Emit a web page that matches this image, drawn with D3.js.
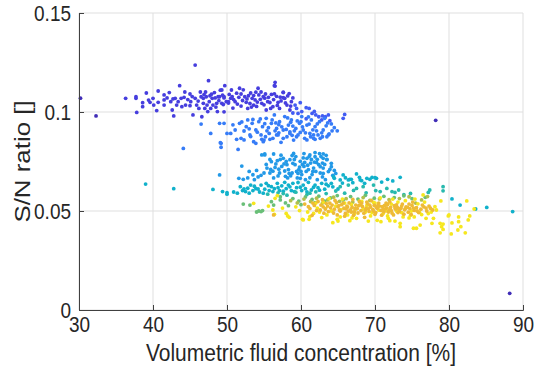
<!DOCTYPE html>
<html>
<head>
<meta charset="utf-8">
<script src="https://cdn.jsdelivr.net/npm/d3@7"></script>
<style>
  body { margin: 0; background: #fff; }
  text { font-family: "Liberation Sans", Arial, sans-serif; fill: #262626; }
</style>
</head>
<body>
<svg id="chart" width="534" height="373"></svg>
<script>
// axis ticks
const xTicks = [30, 40, 50, 60, 70, 80, 90];
const yTicks = [0, 0.05, 0.1, 0.15];
const yTickLabels = ['0', '0.05', '0.1', '0.15'];

// colour value (parula) of each group of points
const groupColour = { deep: 0.02, violet: 0.07, indigo: 0.13, blue: 0.20, sky: 0.29, teal: 0.40, seagreen: 0.47, green: 0.57, olive: 0.66, yellow: 0.92, orange: 0.75 };

// points: [fluid concentration %, S/N ratio]
const deepPts = [[30.2,.1070],[32.3,.0980],[78.2,.0958],[88.2,.0084]];

const violetPts = [
  [36.3,.1069],[37.7,.1077],[37.7,.1069],[37.8,.0998],[38.6,.1047],[38.6,.1027],[39.1,.1096],[39.6,.1049],[40.0,.1069],[40.1,.1035],
  [40.5,.1007],[40.7,.1106],[40.7,.1049],[41.5,.1086],[41.5,.1061],[41.5,.1035],[42.2,.1098],[42.4,.1052],[42.6,.1010],[42.7,.1066],
  [43.0,.1069],[42.8,.0980],[43.2,.1035],[43.6,.1133],[43.8,.1069],[43.9,.1027],[44.2,.1074],[44.3,.1101],[44.4,.1035],[45.0,.1032],
  [45.0,.1091],[45.1,.1052],[45.4,.0985],[45.7,.1237],[45.7,.1069],[45.9,.1035],[46.2,.1018],[46.4,.1101],[46.5,.1077],[46.6,.0976],
  [46.8,.1044],[46.8,.1069],[47.0,.1018],[47.1,.1101],[47.2,.1077],[47.3,.1035],[47.4,.1002],[47.5,.1158],[47.6,.1052],[47.7,.1082],
  [47.8,.1018],[48.0,.1069],[48.1,.1035],[48.3,.1098],[48.4,.1071],[48.6,.1044],[48.7,.1002],[48.8,.1077],[49.0,.1077],[49.1,.1110],
  [49.3,.1044],[49.6,.1071],[49.7,.1133],[49.9,.1052],[49.3,.1111],[49.6,.1077],[50.6,.1111],[50.7,.1077],[50.2,.1052],[49.5,.1038],
  [49.6,.1001],[51.7,.1120],[51.9,.1091],[51.1,.1052],[52.4,.1077],[52.6,.1049],[52.8,.1018],[53.2,.1096],[53.4,.1069],[53.6,.1035],
  [54.2,.1120],[54.3,.1086],[54.7,.1044],[54.9,.1077],[55.3,.1010],[55.5,.1052],[56.0,.1089],[56.2,.1027],[56.5,.1150],[56.4,.1133],
  [56.9,.1049],[57.1,.1018],[57.6,.1100],[57.8,.1069],[58.1,.1035],[58.5,.1010],[58.7,.1052],[56.5,.1131],[57.6,.1098],[57.6,.1072],
  [50.9,.1063],[51.4,.1040],[51.6,.1074],[52.1,.1058],[52.9,.1082],[53.1,.1043],[53.8,.1061],[54.0,.1028],[54.5,.1064],[55.1,.1070],
  [55.8,.1048],[56.3,.1063],[56.7,.1079],[57.3,.1056],[58.2,.1081],[58.9,.1071],[50.3,.1089],[53.9,.1100],[55.2,.1091],[48.9,.1057],
  [50.2,.1045],[50.8,.1020],[51.3,.1095],[51.9,.1030],[52.2,.1112],[52.7,.1066],[53.3,.1025],[53.6,.1083],[54.1,.1050],[54.6,.1101],
  [55.0,.1036],[55.6,.1074],[55.9,.1018],[56.4,.1092],[56.8,.1033],[57.2,.1075],[57.9,.1046],[58.4,.1093],[58.6,.1030],[46.1,.1055],
  [45.3,.1078],[44.7,.1063],[47.9,.1090],[48.5,.1025],[49.4,.1085],[50.5,.1069],[46.9,.1088],[43.4,.1052],[41.9,.1071],[39.4,.1060]
];

const indigoPts = [
  [59.2,.1035],[59.4,.1018],[59.6,.0993],[60.1,.1002],[60.7,.1022],[61.1,.1018],[61.5,.0993],[60.7,.0966],[62.0,.0985],[62.4,.0976],
  [63.3,.0976],[65.9,.0988],[65.7,.0968],[63.7,.0985],[63.9,.0956],[62.9,.0980],[62.8,.0960],[59.9,.1047],[61.8,.1003],[58.9,.0995]
];

const bluePts = [
  [44.1,.0816],[47.8,.0892],[49.2,.0842],[49.2,.0822],[49.1,.0845],[50.5,.0892],[51.3,.0862],[51.5,.0811],[52.3,.0859],[53.2,.0876],
  [53.9,.0842],[54.7,.0862],[46.5,.0939],[49.0,.0943],[49.6,.0943],[50.0,.0892],[51.1,.0909],[51.7,.0943],[51.9,.0867],[52.6,.0926],
  [52.8,.0960],[53.1,.0884],[53.4,.0943],[53.6,.0850],[53.9,.0909],[54.3,.0951],[54.6,.0884],[54.8,.0926],[55.0,.0858],[55.3,.0968],
  [55.7,.0892],[56.0,.0943],[56.2,.0867],[56.4,.0985],[56.7,.0917],[56.9,.0884],[57.1,.0951],[57.3,.0847],[57.6,.0909],[57.8,.0977],
  [58.1,.0875],[58.3,.0934],[58.5,.0900],[58.7,.0960],[59.0,.0858],[59.3,.0917],[59.6,.0884],[59.8,.0943],[60.1,.0977],[60.3,.0909],
  [60.5,.0867],[60.8,.0934],[61.2,.0892],[61.4,.0960],[61.7,.0867],[61.9,.0926],[62.3,.0884],[62.5,.0951],[63.0,.0909],[63.2,.0968],
  [63.8,.0889],[62.9,.0875],[61.9,.0862],[63.7,.0884],[54.9,.0850],[55.8,.0862],[56.7,.0884],[57.6,.0867],[58.5,.0892],[59.4,.0875],
  [60.8,.0859],[61.7,.0884],[62.6,.0867],[63.5,.0875],[64.5,.0921],[64.1,.0940],[55.6,.0921],[57.0,.0936],[58.9,.0929],[60.0,.0951],
  [61.1,.0939],[62.1,.0905],[59.9,.0897],[58.0,.0912],[56.5,.0905],[55.1,.0941],[54.1,.0898],[52.3,.0904],[64.9,.0905],[63.4,.0930],
  [50.8,.0935],[52.0,.0950],[53.0,.0915],[54.5,.0965],[55.4,.0905],[56.1,.0960],[57.4,.0925],[58.2,.0970],[58.8,.0882],[59.5,.0955],
  [60.6,.0895],[61.0,.0975],[61.6,.0910],[62.2,.0940],[62.8,.0895],[63.6,.0945],[64.2,.0905],[55.2,.0875],[57.0,.0895],[59.1,.0905],
  [60.2,.0925],[56.6,.0945],[53.5,.0962],[58.6,.0948],[61.3,.0875]
];

const skyPts = [
  [49.0,.0682],[51.6,.0665],[52.2,.0660],[52.0,.0727],[52.8,.0667],[53.5,.0683],[53.7,.0658],[54.2,.0672],[54.7,.0783],[55.1,.0783],
  [54.6,.0680],[55.0,.0692],[55.4,.0717],[55.8,.0692],[56.0,.0749],[56.3,.0667],[56.5,.0720],[56.8,.0754],[57.1,.0692],[57.4,.0725],
  [57.6,.0766],[57.9,.0675],[58.1,.0734],[58.3,.0709],[58.5,.0759],[58.8,.0692],[59.0,.0791],[59.2,.0734],[59.5,.0667],[59.7,.0709],
  [59.9,.0751],[60.1,.0684],[60.4,.0725],[60.6,.0658],[60.8,.0766],[61.0,.0709],[61.3,.0742],[61.5,.0684],[61.7,.0717],[61.9,.0774],
  [62.2,.0658],[62.4,.0734],[62.6,.0692],[63.0,.0717],[63.5,.0759],[63.3,.0658],[55.1,.0788],[56.3,.0788],[63.0,.0789],[63.4,.0781],
  [61.2,.0783],[61.9,.0795],[63.0,.0766],[63.5,.0761],[64.1,.0741],[64.1,.0724],[63.7,.0699],[63.0,.0690],[62.6,.0724],[60.0,.0700],
  [58.6,.0678],[57.0,.0711],[59.3,.0775],[60.5,.0745],[62.0,.0700],[58.0,.0750],[61.4,.0760],[59.6,.0690],[64.7,.0690],[60.9,.0731],
  [59.8,.0722],[58.9,.0741],[61.8,.0747],[62.9,.0742],[57.8,.0702],[56.2,.0701],[60.3,.0768],[62.2,.0761],
  [55.3,.0735],[55.9,.0710],[56.6,.0738],[57.2,.0760],[57.7,.0738],[58.4,.0690],[59.1,.0760],[59.4,.0700],[60.2,.0735],[60.7,.0700],
  [61.1,.0775],[61.6,.0700],[62.1,.0745],[62.7,.0775],[63.2,.0735],[63.9,.0710],[64.5,.0705],[53.0,.0700],[54.0,.0705],[56.9,.0677],
  [58.2,.0667],[59.9,.0665],[61.2,.0668],[62.9,.0672],[64.3,.0680],[57.3,.0782],[58.8,.0780],[60.4,.0790],[62.5,.0790],[55.8,.0760]
];

const tealPts = [
  [39.0,.0636],[42.8,.0613],[48.1,.0609],[49.4,.0598],[50.0,.0593],[50.0,.0585],[50.9,.0596],[51.4,.0590],[51.8,.0623],[52.1,.0603],
  [52.5,.0598],[52.8,.0615],[53.2,.0631],[53.5,.0603],[53.9,.0613],[54.4,.0596],[54.6,.0631],[55.1,.0610],[55.3,.0640],[55.7,.0603],
  [56.0,.0623],[56.4,.0613],[56.8,.0640],[57.1,.0603],[57.4,.0627],[57.8,.0645],[58.0,.0613],[58.3,.0631],[58.7,.0603],[58.9,.0640],
  [59.4,.0618],[59.6,.0644],[60.1,.0603],[60.3,.0631],[60.6,.0613],[61.0,.0645],[61.4,.0606],[61.9,.0631],[62.3,.0618],[62.8,.0640],
  [63.2,.0610],[63.7,.0627],[64.4,.0673],[65.7,.0682],[66.4,.0657],[66.8,.0660],[67.5,.0687],[68.2,.0653],[68.9,.0665],[69.6,.0670],
  [70.2,.0665],[73.4,.0670],[64.5,.0665],[65.3,.0657],[66.6,.0660],[68.0,.0657],[70.0,.0668],[71.7,.0660],[64.1,.0640],[65.0,.0611],
  [80.4,.0561],[81.5,.0530],[83.6,.0510],[85.1,.0518],[88.6,.0497],
  [52.3,.0612],[53.0,.0590],[53.7,.0625],[54.2,.0611],[54.9,.0590],[55.6,.0628],[56.2,.0598],[56.9,.0618],[57.6,.0600],[58.5,.0622],
  [59.1,.0598],[59.9,.0620],[60.8,.0597],[61.7,.0620],[62.5,.0605],[63.4,.0635],[64.3,.0622],[65.6,.0641],[67.0,.0643],[68.6,.0640],
  [70.9,.0646],[72.4,.0652],[66.0,.0668],[67.9,.0670],[69.3,.0660]
];

const seagreenPts = [
  [55.5,.0585],[56.9,.0592],[58.1,.0580],[59.3,.0595],[60.8,.0583],[62.0,.0597],[63.4,.0588],[64.7,.0601],[65.9,.0590],[67.1,.0604],
  [65.3,.0623],[66.4,.0631],[67.5,.0614],[68.4,.0623],[69.8,.0631],[70.7,.0598],[71.6,.0614],[72.3,.0598],[73.2,.0606],[72.7,.0594],
  [74.8,.0589],[73.9,.0582],[77.4,.0606],[77.2,.0594],[79.2,.0623],[79.2,.0602],[68.8,.0592],[70.1,.0603],[61.2,.0590],[57.6,.0588]
];

const greenPts = [
  [52.2,.0535],[53.1,.0530],[54.0,.0495],[54.3,.0500],[54.6,.0497],[54.8,.0502],[56.0,.0547],[56.3,.0530],[57.2,.0572],[57.2,.0556],
  [57.9,.0541],[58.9,.0563],[59.7,.0550],[60.6,.0571],[61.5,.0558],[62.4,.0575],[63.2,.0550],[64.0,.0566],[64.9,.0578],[65.7,.0555],
  [66.7,.0573],[67.7,.0560],[68.7,.0579],[69.9,.0565],[71.2,.0574],[72.6,.0568],[73.9,.0577],[75.0,.0562],[76.8,.0569],[61.9,.0542],
  [60.0,.0532],[58.3,.0527]
];

const olivePts = [
  [58.6,.0552],[59.5,.0541],[60.4,.0560],[61.3,.0548],[62.1,.0565],[62.9,.0540],[63.6,.0556],[64.4,.0570],[65.2,.0549],[66.1,.0562],
  [67.0,.0545],[68.4,.0568],[69.3,.0553],[70.6,.0561],[71.9,.0557],[73.3,.0563],[74.6,.0572],[75.5,.0540],[76.3,.0556],[77.1,.0573]
];

const yellowPts = [
  [55.6,.0525],[56.2,.0505],[56.4,.0483],[56.5,.0564],[56.8,.0578],[53.6,.0539],[58.0,.0488],[58.2,.0475],[58.4,.0468],[59.3,.0521],
  [60.2,.0458],[61.1,.0458],[60.3,.0455],[61.2,.0472],[62.0,.0540],[62.5,.0495],[63.3,.0512],[64.3,.0441],[64.9,.0458],[65.0,.0449],
  [65.6,.0560],[66.3,.0480],[66.8,.0533],[67.5,.0463],[68.2,.0549],[68.7,.0495],[69.1,.0449],[69.8,.0544],[70.3,.0453],[70.8,.0446],
  [71.1,.0487],[71.8,.0463],[72.0,.0451],[72.4,.0560],[72.7,.0449],[73.4,.0438],[73.4,.0421],[73.6,.0492],[74.1,.0552],[74.8,.0479],
  [75.2,.0413],[75.6,.0413],[75.4,.0560],[76.1,.0429],[76.5,.0581],[76.9,.0463],[77.2,.0487],[77.7,.0438],[77.9,.0463],[78.3,.0505],
  [78.8,.0438],[78.8,.0390],[78.9,.0551],[79.0,.0421],[79.2,.0434],[79.2,.0407],[79.9,.0475],[80.0,.0480],[80.3,.0384],[80.4,.0440],
  [81.2,.0404],[81.3,.0446],[81.3,.0470],[81.6,.0421],[82.2,.0390],[82.4,.0551],[82.6,.0455],[82.8,.0475],[83.4,.0510],[67.3,.0505],
  [69.6,.0492],[71.5,.0501],[73.1,.0545],[75.8,.0536],[64.1,.0500],[62.8,.0467],[65.4,.0507],[68.9,.0528],[70.7,.0566],[76.0,.0494],
  [74.6,.0465],[59.8,.0502],[57.5,.0515],[63.8,.0562],[66.6,.0451],
  [60.9,.0495],[62.2,.0515],[63.5,.0480],[64.7,.0525],[65.9,.0540],[67.2,.0485],[68.4,.0510],[69.4,.0475],[70.5,.0505],[71.7,.0475],
  [72.9,.0500],[73.8,.0470],[74.9,.0500],[76.3,.0482],[77.6,.0495],[78.1,.0522],[76.7,.0545],[75.3,.0470],[72.2,.0535],[66.9,.0465],
  [65.3,.0470],[63.0,.0545],[61.7,.0488],[70.0,.0540],[67.9,.0550]
];

const orangePts = [
  [60.5,.0535],[61.2,.0512],[61.8,.0528],[62.3,.0548],[62.6,.0505],[63.0,.0521],[63.4,.0539],[63.7,.0497],[64.0,.0516],[64.2,.0530],
  [64.5,.0509],[64.8,.0543],[65.0,.0521],[65.3,.0500],[65.5,.0532],[65.8,.0514],[66.0,.0488],[66.2,.0525],[66.5,.0541],[66.7,.0506],
  [66.9,.0519],[67.2,.0495],[67.4,.0530],[67.6,.0512],[67.9,.0547],[68.1,.0502],[68.3,.0523],[68.5,.0489],[68.8,.0515],[69.0,.0536],
  [69.2,.0498],[69.4,.0520],[69.7,.0508],[69.9,.0529],[70.1,.0492],[70.3,.0514],[70.5,.0540],[70.8,.0503],[71.0,.0522],[71.2,.0496],
  [71.4,.0511],[71.7,.0533],[71.9,.0505],[72.1,.0518],[72.3,.0490],[72.6,.0527],[72.8,.0509],[73.0,.0520],[73.3,.0499],[73.5,.0514],
  [73.7,.0535],[74.0,.0506],[74.2,.0521],[74.5,.0494],[74.7,.0512],[75.0,.0528],[75.3,.0503],[75.6,.0517],[75.9,.0492],[76.2,.0509],
  [76.6,.0521],[77.0,.0500],[77.5,.0514],[63.1,.0489],[64.6,.0553],[65.9,.0474],[67.0,.0558],[68.6,.0468],[69.5,.0553],[70.9,.0479],
  [72.0,.0546],[73.9,.0484],[75.1,.0545],[61.5,.0478],[62.9,.0557],[66.4,.0499],[67.8,.0527],[69.1,.0511],[70.6,.0525],[71.6,.0516],
  [72.9,.0531],[74.4,.0518],[68.0,.0531],[66.1,.0511],[65.1,.0527],[70.2,.0519],[73.2,.0512],[71.3,.0528],[56.3,.0480],
  [61.0,.0522],[61.6,.0540],[62.1,.0502],[62.7,.0530],[63.3,.0510],[63.9,.0540],[64.4,.0490],[65.2,.0505],[65.7,.0540],[66.3,.0520],
  [66.8,.0495],[67.3,.0512],[67.7,.0490],[68.2,.0540],[68.7,.0505],[69.3,.0530],[69.8,.0500],[70.4,.0528],[71.1,.0510],[71.5,.0540],
  [72.2,.0502],[72.7,.0515],[73.1,.0492],[73.6,.0525],[74.1,.0512],[74.6,.0535],[75.2,.0515],[75.7,.0500],[76.4,.0530],[76.9,.0515],
  [77.3,.0525],[77.8,.0505],[64.9,.0480],[67.1,.0478],[70.0,.0483],[72.5,.0480],[74.9,.0482],[63.6,.0525],[68.9,.0545],[71.8,.0495]
];

const groups = [
  ['deep', deepPts], ['violet', violetPts], ['indigo', indigoPts], ['blue', bluePts], ['sky', skyPts],
  ['teal', tealPts], ['seagreen', seagreenPts], ['green', greenPts], ['olive', olivePts],
  ['yellow', yellowPts], ['orange', orangePts]
];

// parula-like colormap
const parulaStops = ['#3e26a8','#4743e8','#3e6ffb','#2b8ff0','#1ba4de','#0fb4c6','#36bca0','#74c070','#b5bf4a','#eeba36','#fbcc2c','#f6e61e','#f9fb15'];
const parula = d3.scaleLinear()
  .domain(parulaStops.map((d, i) => i / (parulaStops.length - 1)))
  .range(parulaStops);

const margin = { top: 13, right: 11, bottom: 63, left: 79 };
const width = 534, height = 373;
const textStretch = 1.15;   // the exported figure's text is a bit taller than wide

function drawChart() {
  const svg = d3.select('#chart');

  const x = d3.scaleLinear().domain([30, 90]).range([margin.left, width - margin.right]);
  const y = d3.scaleLinear().domain([0, 0.15]).range([height - margin.bottom, margin.top]);

  // grid
  svg.append('g').selectAll('line').data(xTicks).enter().append('line')
    .attr('x1', d => x(d)).attr('x2', d => x(d))
    .attr('y1', y(0)).attr('y2', y(0.15))
    .attr('stroke', '#dfdfdf').attr('stroke-width', 1);
  svg.append('g').selectAll('line').data(yTicks).enter().append('line')
    .attr('x1', x(30)).attr('x2', x(90))
    .attr('y1', d => y(d)).attr('y2', d => y(d))
    .attr('stroke', '#dfdfdf').attr('stroke-width', 1);

  // points
  groups.forEach(([name, pts]) => {
    svg.append('g').selectAll('circle').data(pts).enter().append('circle')
      .attr('cx', d => x(d[0]))
      .attr('cy', d => y(d[1]))
      .attr('r', 1.9)
      .attr('fill', parula(groupColour[name]));
  });

  // x-axis
  const xAxis = svg.append('g')
    .attr('transform', `translate(0,${y(0)})`)
    .call(d3.axisBottom(x).tickValues(xTicks).tickSize(-5).tickPadding(6).tickFormat(d3.format('d')));
  // y-axis
  const yAxis = svg.append('g')
    .attr('transform', `translate(${x(30)},0)`)
    .call(d3.axisLeft(y).tickValues(yTicks).tickSize(-5).tickPadding(8).tickFormat((d, i) => yTickLabels[i]));

  [xAxis, yAxis].forEach(a => {
    a.select('.domain').attr('stroke', '#404040');
    a.selectAll('.tick line').attr('stroke', '#404040');
    a.selectAll('.tick text')
      .attr('font-size', 19).attr('font-family', null).attr('fill', '#262626')
      .attr('transform', `scale(1,${textStretch})`);
  });

  // axis labels
  svg.append('text')
    .attr('transform', `translate(${(x(30) + x(90)) / 2},361) scale(1,${textStretch})`)
    .style('text-anchor', 'middle')
    .style('font-size', '21px')
    .text('Volumetric fluid concentration [%]');

  svg.append('text')
    .attr('transform', `translate(30,${(y(0) + y(0.15)) / 2}) scale(1,${textStretch}) rotate(-90)`)
    .style('text-anchor', 'middle')
    .style('font-size', '22.5px')
    .text('S/N ratio []');
}

drawChart();
</script>
</body>
</html>
